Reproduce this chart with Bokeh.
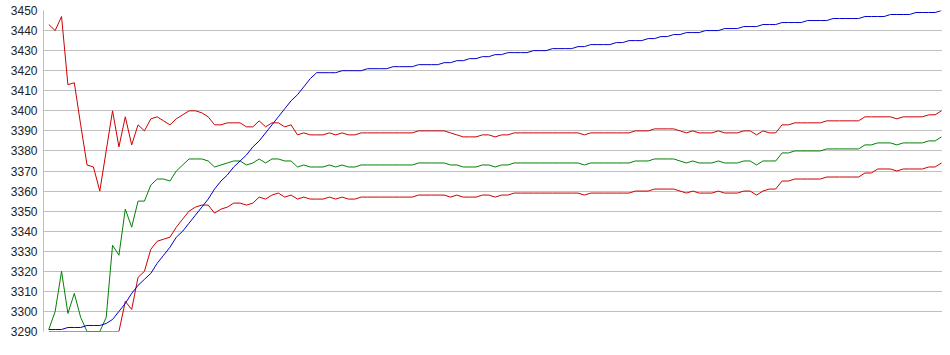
from bokeh.plotting import figure
from bokeh.models import Range1d, FixedTicker
from bokeh.embed import file_html
from bokeh.resources import INLINE

Y_TICKS = [3290, 3300, 3310, 3320, 3330, 3340, 3350, 3360, 3370, 3380,
           3390, 3400, 3410, 3420, 3430, 3440, 3450]

upper_red = [3443, 3440, 3447, 3413, 3414, 3393, 3373, 3372, 3360, 3380,
             3400, 3382, 3397, 3383, 3393, 3390, 3396, 3397, 3395, 3393,
             3396, 3398, 3400, 3400, 3399, 3397, 3393, 3393, 3394, 3394,
             3394, 3392, 3392, 3395, 3392, 3394, 3394, 3392, 3393, 3388,
             3389, 3388, 3388, 3388, 3389, 3388, 3389, 3388, 3388, 3389,
             3389, 3389, 3389, 3389, 3389, 3389, 3389, 3389, 3390, 3390,
             3390, 3390, 3390, 3389, 3388, 3387, 3387, 3387, 3388, 3388,
             3387, 3388, 3388, 3389, 3389, 3389, 3389, 3389, 3389, 3389,
             3389, 3389, 3389, 3389, 3388, 3389, 3389, 3389, 3389, 3389,
             3389, 3389, 3390, 3390, 3390, 3391, 3391, 3391, 3391, 3390,
             3389, 3390, 3389, 3389, 3389, 3390, 3389, 3389, 3389, 3390,
             3390, 3388, 3390, 3389, 3389, 3393, 3393, 3394, 3394, 3394,
             3394, 3394, 3395, 3395, 3395, 3395, 3395, 3395, 3397, 3397,
             3397, 3397, 3397, 3396, 3397, 3397, 3397, 3397, 3398, 3398,
             3400]

green = [3291, 3300, 3320, 3299, 3309, 3297, 3290, 3290, 3290, 3297,
         3333, 3328, 3351, 3342, 3355, 3355, 3363, 3366, 3366, 3365,
         3370, 3373, 3376, 3376, 3376, 3375, 3372, 3373, 3374, 3375,
         3375, 3373, 3374, 3376, 3374, 3376, 3376, 3375, 3375, 3372,
         3373, 3372, 3372, 3372, 3373, 3372, 3373, 3372, 3372, 3373,
         3373, 3373, 3373, 3373, 3373, 3373, 3373, 3373, 3374, 3374,
         3374, 3374, 3374, 3373, 3373, 3372, 3372, 3372, 3373, 3373,
         3372, 3373, 3373, 3374, 3374, 3374, 3374, 3374, 3374, 3374,
         3374, 3374, 3374, 3374, 3373, 3374, 3374, 3374, 3374, 3374,
         3374, 3374, 3375, 3375, 3375, 3376, 3376, 3376, 3376, 3375,
         3374, 3375, 3374, 3374, 3374, 3375, 3374, 3374, 3374, 3375,
         3375, 3373, 3375, 3375, 3375, 3379, 3379, 3380, 3380, 3380,
         3380, 3380, 3381, 3381, 3381, 3381, 3381, 3381, 3383, 3383,
         3384, 3384, 3384, 3383, 3384, 3384, 3384, 3384, 3385, 3385,
         3387]

lower_red = [3290, 3290, 3290, 3290, 3290, 3290, 3290, 3290, 3290, 3290,
             3290, 3290, 3305, 3301, 3317, 3320, 3331, 3335, 3336, 3337,
             3342, 3346, 3350, 3352, 3353, 3353, 3349, 3351, 3352, 3354,
             3354, 3353, 3354, 3357, 3356, 3358, 3359, 3357, 3358, 3356,
             3357, 3356, 3356, 3356, 3357, 3356, 3357, 3356, 3356, 3357,
             3357, 3357, 3357, 3357, 3357, 3357, 3357, 3357, 3358, 3358,
             3358, 3358, 3358, 3357, 3358, 3357, 3357, 3357, 3358, 3358,
             3357, 3358, 3358, 3359, 3359, 3359, 3359, 3359, 3359, 3359,
             3359, 3359, 3359, 3359, 3358, 3359, 3359, 3359, 3359, 3359,
             3359, 3359, 3360, 3360, 3360, 3361, 3361, 3361, 3361, 3360,
             3359, 3360, 3359, 3359, 3359, 3360, 3359, 3359, 3359, 3360,
             3360, 3358, 3360, 3361, 3361, 3365, 3365, 3366, 3366, 3366,
             3366, 3366, 3367, 3367, 3367, 3367, 3367, 3367, 3369, 3369,
             3371, 3371, 3371, 3370, 3371, 3371, 3371, 3371, 3372, 3372,
             3374]

blue = [3291, 3291, 3291, 3292, 3292, 3292, 3293, 3293, 3293, 3294,
        3296, 3300, 3304, 3309, 3313, 3316, 3319, 3324, 3328, 3332,
        3337, 3340, 3344, 3348, 3352, 3356, 3361, 3365, 3368, 3372,
        3375, 3378, 3382, 3385, 3389, 3393, 3397, 3401, 3405, 3408,
        3412, 3416, 3419, 3419, 3419, 3419, 3420, 3420, 3420, 3420,
        3421, 3421, 3421, 3421, 3422, 3422, 3422, 3422, 3423, 3423,
        3423, 3423, 3424, 3424, 3425, 3425, 3426, 3426, 3427, 3427,
        3428, 3428, 3429, 3429, 3429, 3429, 3430, 3430, 3430, 3431,
        3431, 3431, 3431, 3432, 3432, 3433, 3433, 3433, 3433, 3434,
        3434, 3435, 3435, 3435, 3436, 3436, 3437, 3437, 3438, 3438,
        3439, 3439, 3439, 3440, 3440, 3440, 3441, 3441, 3441, 3442,
        3442, 3442, 3443, 3443, 3443, 3444, 3444, 3444, 3444, 3445,
        3445, 3445, 3445, 3446, 3446, 3446, 3446, 3446, 3447, 3447,
        3447, 3447, 3448, 3448, 3448, 3448, 3449, 3449, 3449, 3449,
        3450]

xs = list(range(len(blue)))

p = figure(width=942, height=347, output_backend="svg", toolbar_location=None,
           x_range=Range1d(-0.83, 140.16), y_range=Range1d(3290, 3450),
           min_border_left=43, min_border_right=0, min_border_top=10,
           min_border_bottom=16)
p.background_fill_color = "white"
p.border_fill_color = "white"
p.outline_line_color = None

p.xaxis.visible = False
p.xgrid.visible = False

yax = p.yaxis[0]
yax.ticker = FixedTicker(ticks=Y_TICKS)
yax.major_tick_in = 0
yax.major_tick_out = 0
yax.minor_tick_in = 0
yax.minor_tick_out = 0
yax.axis_line_color = "#BDBDBD"
yax.major_label_standoff = 6
yax.major_label_text_font = "Liberation Sans"
yax.major_label_text_font_size = "12px"
yax.major_label_text_color = "#222222"

p.ygrid.grid_line_color = "#C0C0C0"
p.ygrid.grid_line_width = 1

p.line(xs, green, line_color="#008000", line_width=1)
p.line(xs, lower_red, line_color="#CC0000", line_width=1)
p.line(xs, upper_red, line_color="#CC0000", line_width=1)
p.line(xs, blue, line_color="#0000CC", line_width=1)

open("out.html", "w").write(file_html(p, INLINE))
